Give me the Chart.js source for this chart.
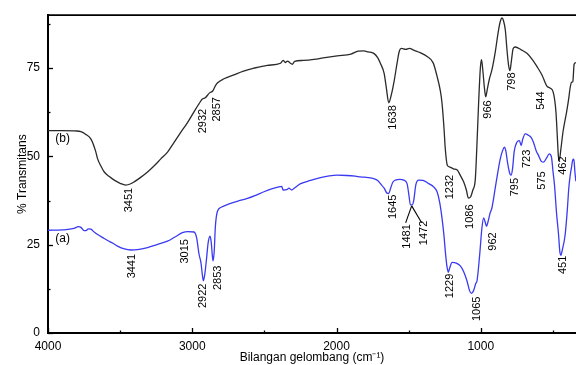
<!DOCTYPE html>
<html><head><meta charset="utf-8">
<script src="https://cdn.jsdelivr.net/npm/chart.js@4/dist/chart.umd.min.js"></script>
<style>html,body{margin:0;padding:0;background:#fff;overflow:hidden}canvas{display:block}</style>
</head><body>
<canvas id="c" width="576" height="365"></canvas>
<script>
// ---- data ----
const blackWavenumbers = [4000,3900,3800,3772,3740,3702,3670,3656,3630,3610,3575,3541,3500,3460,3430,3403,3360,3310,3260,3218,3170,3126,3080,3033,2990,2960,2941,2932,2910,2880,2857,2840,2826,2780,2711,2650,2572,2480,2388,2370,2355,2340,2320,2307,2290,2230,2157,2080,1995,1900,1850,1811,1780,1742,1715,1696,1670,1655,1638,1620,1600,1580,1565,1550,1520,1495,1465,1420,1372,1330,1303,1280,1269,1255,1246,1232,1215,1190,1165,1140,1119,1100,1086,1070,1055,1038,1028,1015,1003,995,985,975,966,955,940,923,900,877,863,853,843,830,818,808,798,788,776,761,720,680,640,611,575,542,521,498,479,470,462,456,445,430,405,390,382,371,362,353,341];
const blackValues = [57.3,57.3,57.2,57.0,56.3,54.9,51.5,49.3,47.0,45.6,44.3,43.3,42.4,41.9,42.2,42.8,44.0,45.6,47.5,49.3,51.3,54.0,56.8,59.6,62.5,64.5,65.7,66.2,66.6,68.0,68.6,70.0,70.8,72.0,73.1,74.1,75.0,75.8,76.4,77.2,76.6,77.0,76.4,76.1,76.9,77.2,77.5,78.0,78.5,79.0,79.8,79.9,79.6,79.2,78.0,76.4,73.5,69.5,65.2,67.5,71.5,76.5,79.8,80.6,80.3,80.6,80.1,79.4,78.3,76.5,72.7,68.5,65.2,58.0,52.1,47.5,47.0,46.5,46.2,44.5,42.8,40.5,38.2,38.6,40.5,43.5,52.0,65.2,75.0,77.4,74.0,69.5,66.9,69.0,72.0,74.5,79.5,85.8,88.5,89.2,88.5,85.8,80.0,76.0,74.3,77.0,80.5,81.0,80.2,79.2,77.3,75.5,73.0,69.9,69.4,68.2,62.6,56.0,50.0,48.8,52.0,57.0,62.6,66.5,69.1,71.0,71.2,76.1,76.6];

const blueWavenumbers = [4000,3900,3820,3790,3772,3750,3737,3720,3703,3680,3656,3620,3587,3550,3518,3470,3426,3380,3310,3240,3172,3120,3068,3030,2988,2970,2953,2940,2930,2923,2912,2900,2890,2877,2868,2862,2856,2848,2840,2826,2800,2734,2680,2618,2560,2503,2450,2399,2380,2370,2345,2330,2310,2296,2249,2180,2111,2050,1995,1930,1870,1834,1780,1742,1715,1696,1670,1650,1638,1625,1610,1592,1560,1534,1511,1498,1488,1475,1465,1450,1430,1400,1361,1330,1303,1285,1269,1255,1246,1235,1225,1215,1199,1170,1142,1120,1096,1078,1065,1050,1035,1026,1008,992,980,970,960,950,935,923,900,880,865,850,837,826,815,800,790,780,768,750,732,720,710,692,670,650,635,615,600,580,565,545,525,510,500,489,475,461,452,445,435,415,400,390,380,372,363,355,348,341];
const blueValues = [29.1,29.2,29.6,30.1,29.9,29.0,29.0,29.5,29.4,28.6,27.9,27.0,26.2,25.4,24.6,23.8,23.5,23.6,24.2,25.1,26.0,27.2,28.4,28.7,28.6,27.0,22.3,20.0,16.5,14.8,17.0,21.5,25.5,27.4,25.5,22.5,20.4,23.0,30.0,34.4,35.6,36.7,37.4,38.1,39.0,40.0,40.8,41.4,41.5,40.5,40.6,41.0,40.5,40.9,42.3,43.2,44.0,44.5,44.7,44.6,44.4,44.2,44.0,43.7,43.2,42.3,41.0,39.6,39.5,41.0,42.7,43.3,43.5,43.3,42.3,39.0,36.3,36.3,37.5,42.0,43.3,43.2,42.3,41.5,40.0,37.0,32.6,27.5,23.2,19.0,17.2,18.5,20.0,19.8,19.0,17.5,14.8,12.0,11.2,12.0,14.0,14.8,22.0,29.8,32.6,31.5,30.2,31.5,34.0,35.4,41.0,46.0,49.3,51.5,52.6,51.5,48.4,45.3,44.7,46.5,51.5,54.0,54.5,53.1,54.8,56.4,56.0,55.3,54.0,51.5,50.3,48.6,48.4,49.5,50.7,49.8,46.0,41.9,34.0,27.9,23.0,22.0,23.5,27.9,35.0,41.0,44.7,46.7,48.9,49.2,45.8,43.0];

const seriesNames = ['(b)', '(a)'];
const xTickValues = [4000,3500,3000,2500,2000,1500,1000,500];
const xTickLabels = ['4000','','3000','','2000','','1000',''];
const yTickValues = [0,12.5,25,37.5,50,62.5,75,87.5];
const yTickLabels = ['0','','25','','50','','75',''];

const peakLabels = ['3451','2932','2857','1638','1232','1086','966','798','544','462',
                    '3441','3015','2922','2853','1645','1481','1472','1229','1065','962','795','723','575','451'];
const peakLabelX = [3442,2923,2826,1611,1214,1075,948,786,585,429,
                    3419,3050,2923,2823,1611,1510,1394,1214,1029,914,763,682,578,429];
const peakLabelY = [41.1,63.5,66.8,64.5,44.8,36.4,65.9,73.8,68.4,50.0,
                    22.4,26.6,14.0,19.1,39.2,30.8,31.8,16.8,10.3,28.5,43.9,51.9,45.8,21.9];
// leader lines for 1481 / 1472 : [fromX, fromY, toX, toY]
const leaderLines = [[1479,36.0,1521,31.2],[1479,36.0,1410,31.2]];
const seriesLabelX = [3950, 3950];
const seriesLabelY = [55.1, 26.8];

const toPts = (xs, ys) => xs.map((x, i) => ({x, y: ys[i]}));

const FONT = "'Liberation Sans', Arial, sans-serif";

const decor = {
  id: 'decor',
  afterDraw(chart) {
    const {ctx, chartArea: a, scales: {x, y}} = chart;
    ctx.save();
    ctx.strokeStyle = '#000';
    // top frame line
    ctx.lineWidth = 1.7;
    ctx.beginPath(); ctx.moveTo(a.left - 1, a.top); ctx.lineTo(a.right, a.top); ctx.stroke();
    // inside ticks
    ctx.lineWidth = 1.3;
    xTickValues.forEach((v, i) => {
      const px = Math.round(x.getPixelForValue(v)) + 0.5;
      const len = xTickLabels[i] ? 5 : 2.5;
      ctx.beginPath(); ctx.moveTo(px, a.bottom); ctx.lineTo(px, a.bottom - len); ctx.stroke();
    });
    yTickValues.forEach((v, i) => {
      const py = Math.round(y.getPixelForValue(v)) + 0.5;
      const len = yTickLabels[i] ? 5 : 2.5;
      ctx.beginPath(); ctx.moveTo(a.left, py); ctx.lineTo(a.left + len, py); ctx.stroke();
    });
    // leader lines
    ctx.lineWidth = 1.1;
    leaderLines.forEach(l => {
      ctx.beginPath();
      ctx.moveTo(x.getPixelForValue(l[0]), y.getPixelForValue(l[1]));
      ctx.lineTo(x.getPixelForValue(l[2]), y.getPixelForValue(l[3]));
      ctx.stroke();
    });
    // peak labels (rotated)
    ctx.fillStyle = '#000';
    ctx.font = '11px ' + FONT;
    ctx.textAlign = 'right';
    ctx.textBaseline = 'middle';
    peakLabels.forEach((t, i) => {
      ctx.save();
      ctx.translate(x.getPixelForValue(peakLabelX[i]), y.getPixelForValue(peakLabelY[i]));
      ctx.rotate(-Math.PI / 2);
      ctx.fillText(t, 0, 0);
      ctx.restore();
    });
    // series labels
    ctx.font = '12px ' + FONT;
    ctx.textAlign = 'left';
    seriesNames.forEach((t, i) => {
      ctx.fillText(t, x.getPixelForValue(seriesLabelX[i]), y.getPixelForValue(seriesLabelY[i]));
    });
    ctx.restore();
  }
};

new Chart(document.getElementById('c'), {
  type: 'line',
  data: {
    datasets: [
      {label: seriesNames[0], data: toPts(blackWavenumbers, blackValues), borderColor: '#2a2a2a', borderWidth: 1.3, pointRadius: 0, cubicInterpolationMode: 'monotone', fill: false},
      {label: seriesNames[1], data: toPts(blueWavenumbers, blueValues), borderColor: '#3a3af2', borderWidth: 1.3, pointRadius: 0, cubicInterpolationMode: 'monotone', fill: false}
    ]
  },
  options: {
    responsive: false,
    animation: false,
    events: [],
    layout: {padding: {top: 12, right: 0, bottom: 0, left: 0}},
    plugins: {legend: {display: false}, tooltip: {enabled: false}},
    scales: {
      x: {
        type: 'linear', reverse: true, min: 340, max: 4000,
        afterBuildTicks: s => { s.ticks = xTickValues.map(v => ({value: v})); },
        afterFit: s => { s.height = 32; },
        grid: {display: true, drawOnChartArea: false, drawTicks: false},
        border: {display: true, color: '#000', width: 2},
        ticks: {autoSkip: false, maxRotation: 0, padding: 6, color: '#000', font: {family: FONT, size: 12},
          callback: (v) => { const i = xTickValues.indexOf(v); return i >= 0 ? xTickLabels[i] : ''; }},
        title: {display: true, text: 'Bilangan gelombang (cm\u207B\u00B9)', color: '#000', font: {family: FONT, size: 12}, padding: {top: 0, bottom: 0}}
      },
      y: {
        type: 'linear', min: 0, max: 90,
        afterBuildTicks: s => { s.ticks = yTickValues.map(v => ({value: v})); },
        afterFit: s => { s.width = 48; },
        grid: {display: true, drawOnChartArea: false, drawTicks: false},
        border: {display: true, color: '#000', width: 2},
        ticks: {autoSkip: false, padding: 8, color: '#000', font: {family: FONT, size: 12},
          callback: (v) => { const i = yTickValues.indexOf(v); return i >= 0 ? yTickLabels[i] : ''; }},
        title: {display: true, text: '% Transmitans', color: '#000', font: {family: FONT, size: 12}, padding: {top: 15, bottom: 0}}
      }
    }
  },
  plugins: [decor]
});
</script>
</body></html>
